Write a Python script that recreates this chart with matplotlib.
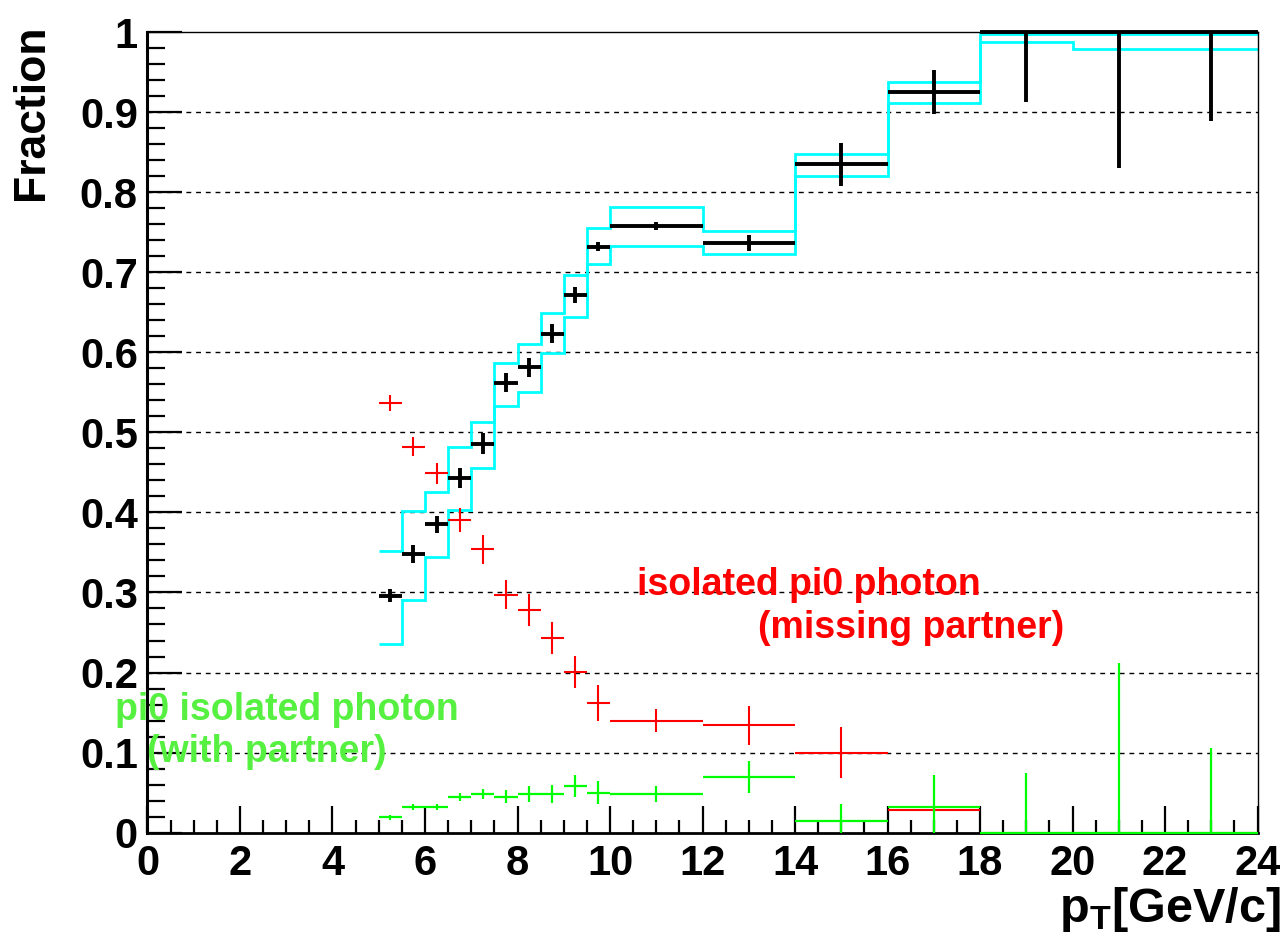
import matplotlib
matplotlib.use("Agg")
import matplotlib.pyplot as plt
import numpy as np
from matplotlib.ticker import MultipleLocator

plt.rcParams['font.family'] = ['Liberation Sans', 'DejaVu Sans']
plt.rcParams['font.weight'] = 'bold'
plt.rcParams['mathtext.fontset'] = 'custom'
plt.rcParams['mathtext.rm'] = 'Liberation Sans:bold'
plt.rcParams['mathtext.it'] = 'Liberation Sans:bold'
plt.rcParams['mathtext.bf'] = 'Liberation Sans:bold'

# pT bin edges [GeV/c]
edges = [5, 5.5, 6, 6.5, 7, 7.5, 8, 8.5, 9, 9.5, 10, 12, 14, 16, 18, 20, 22, 24]

# total fraction (black)
frac = [0.296, 0.348, 0.385, 0.443, 0.486, 0.562, 0.581, 0.623, 0.671, 0.732,
        0.758, 0.737, 0.835, 0.925, 1.0, 1.0, 1.0]
frac_err_lo = [0.008, 0.011, 0.011, 0.012, 0.013, 0.012, 0.012, 0.012, 0.010, 0.006,
               0.005, 0.010, 0.027, 0.027, 0.087, 0.170, 0.111]
frac_err_hi = [0.008, 0.011, 0.011, 0.012, 0.013, 0.012, 0.012, 0.012, 0.010, 0.006,
               0.005, 0.010, 0.027, 0.027, 0.0, 0.0, 0.0]

# systematic band (cyan)
band_hi = [0.352, 0.402, 0.426, 0.482, 0.513, 0.587, 0.610, 0.649, 0.696, 0.755,
           0.781, 0.752, 0.848, 0.938, 0.997, 0.997, 0.997]
band_lo = [0.236, 0.291, 0.344, 0.403, 0.455, 0.533, 0.551, 0.599, 0.644, 0.710,
           0.733, 0.723, 0.820, 0.911, 0.987, 0.979, 0.979]

# isolated pi0 photon, missing partner (red)
miss = [0.537, 0.482, 0.449, 0.391, 0.354, 0.297, 0.278, 0.243, 0.201, 0.162,
        0.140, 0.134, 0.100, 0.028, 0.0, 0.0, 0.0]
miss_err = [0.010, 0.012, 0.013, 0.015, 0.018, 0.018, 0.020, 0.020, 0.020, 0.022,
            0.014, 0.024, 0.032, 0.004, 0.0, 0.0, 0.0]

# pi0 isolated photon, with partner (green)
part = [0.019, 0.032, 0.032, 0.045, 0.048, 0.045, 0.048, 0.048, 0.058, 0.050,
        0.048, 0.069, 0.015, 0.032, 0.0, 0.0, 0.0]
part_err_lo = [0.003, 0.004, 0.004, 0.005, 0.006, 0.008, 0.010, 0.011, 0.014, 0.014,
               0.010, 0.020, 0.015, 0.032, 0.0, 0.0, 0.0]
part_err_hi = [0.003, 0.004, 0.004, 0.005, 0.006, 0.008, 0.010, 0.011, 0.014, 0.014,
               0.010, 0.020, 0.021, 0.040, 0.075, 0.212, 0.106]

x_ticks = list(range(0, 25, 2))
y_ticks = [0, 0.1, 0.2, 0.3, 0.4, 0.5, 0.6, 0.7, 0.8, 0.9, 1]
y_labels = ['0', '0.1', '0.2', '0.3', '0.4', '0.5', '0.6', '0.7', '0.8', '0.9', '1']

edges = np.array(edges)
centers = 0.5 * (edges[:-1] + edges[1:])
halfw = 0.5 * np.diff(edges)

fig = plt.figure(figsize=(12.87, 9.34), dpi=100)
ax = fig.add_axes([0.1146, 0.1085, 0.8625, 0.8572])

for y in y_ticks[1:-1]:
    ax.axhline(y, color='black', lw=1.0, dashes=(3.5, 3.5), zorder=1)

ax.stairs(band_hi, edges, baseline=None, color='#00ffff', lw=2.0, zorder=2)
ax.stairs(band_lo, edges, baseline=None, color='#00ffff', lw=2.0, zorder=2)

ax.errorbar(centers, frac, xerr=halfw, yerr=[frac_err_lo, frac_err_hi], fmt='none',
            ecolor='black', elinewidth=2.8, capsize=0, zorder=4, clip_on=False)
ax.errorbar(centers, miss, xerr=halfw, yerr=miss_err, fmt='none',
            ecolor='#ff0000', elinewidth=1.5, capsize=0, zorder=5)
ax.errorbar(centers, part, xerr=halfw, yerr=[part_err_lo, part_err_hi], fmt='none',
            ecolor='#00ff00', elinewidth=1.6, capsize=0, zorder=6, clip_on=False)

ax.text(10.58, 0.297, 'isolated pi0 photon', color='#ff0000', fontsize=27,
        ha='left', va='baseline', zorder=7)
ax.text(13.19, 0.243, '(missing partner)', color='#ff0000', fontsize=27,
        ha='left', va='baseline', zorder=7)
ax.text(-0.70, 0.141, 'pi0 isolated photon', color='#55f040', fontsize=27,
        ha='left', va='baseline', zorder=7, clip_on=False)
ax.text(-0.02, 0.088, '(with partner)', color='#55f040', fontsize=27,
        ha='left', va='baseline', zorder=7)

ax.set_xlim(0, 24)
ax.set_ylim(0, 1)
ax.set_xticks(x_ticks)
ax.set_xticklabels([str(v) for v in x_ticks])
ax.set_yticks(y_ticks)
ax.set_yticklabels(y_labels)
ax.xaxis.set_minor_locator(MultipleLocator(0.5))
ax.yaxis.set_minor_locator(MultipleLocator(0.02))
ax.tick_params(axis='both', which='both', direction='in', top=False, right=False,
               width=1.6, colors='black', labelsize=30)
ax.tick_params(axis='y', which='major', length=25, pad=7)
ax.tick_params(axis='y', which='minor', length=13)
ax.tick_params(axis='x', which='major', length=19.5, pad=8)
ax.tick_params(axis='x', which='minor', length=9.5)

ax.spines['left'].set_linewidth(2.2)
ax.spines['bottom'].set_linewidth(2.0)
ax.spines['top'].set_linewidth(1.0)
ax.spines['right'].set_linewidth(1.0)

fig.text(32 / 1287, 1 - 25 / 934, 'Fraction', rotation=90, fontsize=32,
         ha='center', va='top')
fig.text(1281 / 1287, 1 - 921.7 / 934, r'$\mathrm{p_{T}[GeV/c]}$', fontsize=35,
         ha='right', va='baseline')

fig.savefig('out.png', dpi=100)
